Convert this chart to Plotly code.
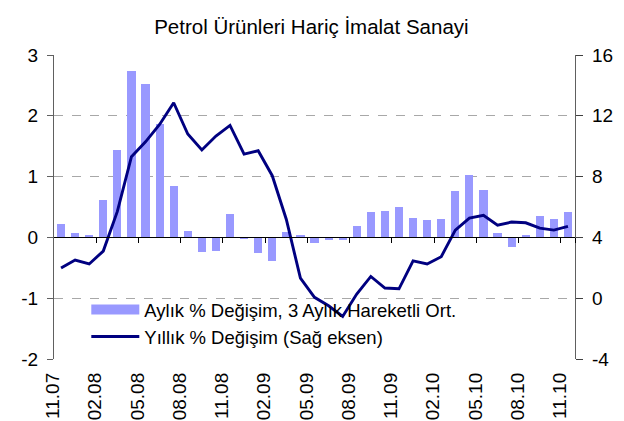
import plotly.graph_objects as go

months = ["11.07","12.07","01.08","02.08","03.08","04.08","05.08","06.08","07.08","08.08",
          "09.08","10.08","11.08","12.08","01.09","02.09","03.09","04.09","05.09","06.09",
          "07.09","08.09","09.09","10.09","11.09","12.09","01.10","02.10","03.10","04.10",
          "05.10","06.10","07.10","08.10","09.10","10.10","11.10"]

monthly_3ma = [0.22, 0.07, 0.04, 0.61, 1.44, 2.74, 2.52, 1.86, 0.85, 0.10,
               -0.24, -0.22, 0.39, -0.02, -0.25, -0.39, 0.09, 0.04, -0.09, -0.04,
               -0.04, 0.19, 0.42, 0.43, 0.50, 0.32, 0.29, 0.30, 0.76, 1.03,
               0.78, 0.07, -0.16, 0.04, 0.35, 0.30, 0.42]

annual = [1.98, 2.51, 2.25, 3.10, 5.71, 9.31, 10.29, 11.43, 12.86, 10.80,
          9.75, 10.67, 11.37, 9.48, 9.70, 8.06, 5.18, 1.32, 0.06, -0.50,
          -1.20, 0.27, 1.43, 0.67, 0.62, 2.46, 2.25, 2.73, 4.48, 5.27,
          5.45, 4.81, 5.01, 4.96, 4.61, 4.48, 4.72]

label_every = 3
left_ticks = [-2, -1, 0, 1, 2, 3]
left_text = ["-2", "-1", "0", "1", "2", "3"]
right_ticks = [-4, 0, 4, 8, 12, 16]
right_text = ["-4", "0", "4", "8", "12", "16"]

bar_name = "Aylık % Değişim, 3 Aylık Hareketli Ort."
line_name = "Yıllık % Değişim (Sağ eksen)"
bar_color = "#9999FF"
line_color = "#000080"

idx = list(range(len(months)))
tickvals = idx[::label_every]
ticktext = months[::label_every]
boundaries = [i - 0.5 for i in range(label_every, len(months), label_every)] + [len(months) - 0.5]

FONT = "Liberation Sans, Arial, sans-serif"
FS = 19

fig = go.Figure()
fig.add_trace(go.Bar(
    x=idx, y=monthly_3ma, name=bar_name, showlegend=False,
    marker=dict(color=bar_color, line=dict(width=0)), width=0.58,
    xaxis="x", yaxis="y"))
# legend entry for the bars drawn as a wide swatch (Excel-like)
fig.add_trace(go.Scatter(
    x=[None], y=[None], name=bar_name, mode="lines",
    line=dict(color=bar_color, width=11), hoverinfo="skip",
    xaxis="x", yaxis="y"))
fig.add_trace(go.Scatter(
    x=idx, y=annual, name=line_name, mode="lines",
    line=dict(color=line_color, width=2.9),
    xaxis="x2", yaxis="y2"))

xr = [-0.5, len(months) - 0.5]
fig.update_layout(
    width=624, height=421,
    margin=dict(l=46, r=57, t=47, b=70, autoexpand=False),
    paper_bgcolor="white", plot_bgcolor="white",
    font=dict(family=FONT, size=FS, color="black"),
    title=dict(text="Petrol Ürünleri Hariç İmalat Sanayi", x=0.494, xref="paper",
               y=0.955, yref="container", yanchor="middle",
               font=dict(size=20.5, family=FONT, color="black")),
    bargap=0,
    showlegend=True,
    legend=dict(x=0.062, y=0.01, xanchor="left", yanchor="bottom",
                bgcolor="rgba(255,255,255,0)", font=dict(size=18.5, family=FONT),
                itemwidth=48, tracegroupgap=0, traceorder="normal"),
    xaxis=dict(range=xr, tickmode="array", tickvals=tickvals, ticktext=ticktext,
               tickangle=-90, showgrid=False, zeroline=False, showline=False,
               ticks="", ticklabelstandoff=9, ticklabelshift=-8, anchor="y",
               automargin=False, tickfont=dict(size=FS, family=FONT)),
    xaxis2=dict(range=xr, overlaying="x", anchor="free", position=0.4, side="bottom",
                showline=True, linecolor="black", linewidth=1, automargin=False,
                tickmode="array", tickvals=boundaries, ticks="outside", ticklen=5,
                tickcolor="black", tickwidth=1, showticklabels=False,
                showgrid=False, zeroline=False),
    yaxis=dict(range=[-2, 3], tickmode="array", tickvals=left_ticks, ticktext=left_text,
               showgrid=True, gridcolor="#a8a8a8", griddash="dash", gridwidth=1,
               zeroline=False, showline=True, linecolor="#606060", linewidth=1.3,
               ticks="outside", ticklen=6, tickcolor="#606060", ticklabelstandoff=5,
               automargin=False, tickfont=dict(size=FS, family=FONT), anchor="x"),
    yaxis2=dict(range=[-4, 16], tickmode="array", tickvals=right_ticks, ticktext=right_text,
                overlaying="y", side="right", anchor="x2", automargin=False,
                showgrid=False, zeroline=False, showline=True, linecolor="#606060",
                linewidth=1.3, ticks="outside", ticklen=7, tickcolor="#404040",
                ticklabelstandoff=5, tickfont=dict(size=FS, family=FONT)),
    yaxis3=dict(range=[-4, 16], tickmode="array", tickvals=right_ticks,
                overlaying="y", side="right", anchor="x", automargin=False,
                showgrid=False, zeroline=False, showline=False,
                ticks="inside", ticklen=7, tickcolor="#404040",
                showticklabels=False),
)

fig.write_html("out.html")
